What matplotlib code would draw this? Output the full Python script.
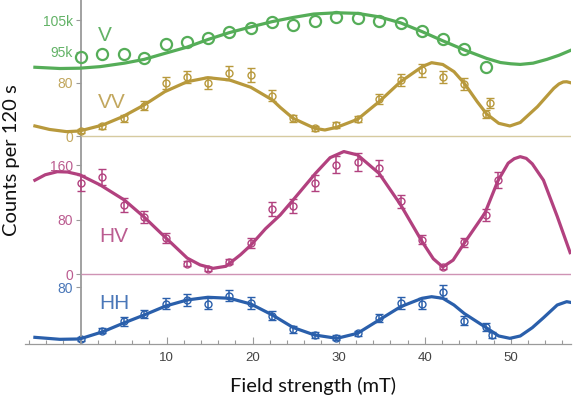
import matplotlib
matplotlib.use("Agg")
import matplotlib.pyplot as plt

plt.rcParams["font.family"] = ["Liberation Sans", "DejaVu Sans"]

# field values of the measurements (mT)
field = [0.0, 2.5, 5.0, 7.4, 9.9, 12.4, 14.8, 17.3, 19.8, 22.3,
         24.7, 27.2, 29.7, 32.2, 34.7, 37.2, 39.7, 42.1, 44.6, 47.1]

# V channel (no error bars, counts)
v_counts = [93200, 94100, 94100, 92800, 97300, 98100, 99200, 101100, 102400, 104300,
            103300, 104700, 105900, 105500, 104700, 104100, 101500, 99000, 95800, 90200]
v_fit_x = [-5.3, -2.4, -0.1, 2.3, 5.1, 7.4, 9.8, 12.4, 14.8, 17.3, 19.8, 22.3, 24.7,
           27.1, 29.8, 32.2, 34.7, 37.2, 39.7, 42.1, 44.6, 47.2, 48.8, 50.0, 51.1, 52.6,
           54.2, 55.6, 56.9]
v_fit = [90000, 89600, 89700, 90200, 91300, 92500, 94400, 96400, 98800, 101000, 102800,
         104500, 105800, 106900, 107300, 107100, 106000, 104100, 101300, 98400, 95500,
         92800, 91500, 91100, 90900, 91300, 92500, 93800, 95300]

# VV channel
vv_field = field + [47.6]
vv_counts = [8, 15, 27, 46, 80, 89, 80, 95, 92, 61, 27, 12, 17, 26, 56, 85, 99, 89, 79, 34, 50]
vv_err = [3, 4, 5, 7, 9, 9, 9, 10, 10, 8, 5, 4, 4, 5, 7, 9, 10, 9, 9, 6, 7]
vv_fit_x = [-5.3, -3.6, -1.6, -0.1, 2.6, 4.9, 7.4, 9.8, 12.4, 14.8, 17.3, 19.8, 22.3, 23.2,
            24.7, 27.2, 28.4, 29.8, 32.2, 34.7, 37.2, 39.7, 40.8, 42.1, 43.4, 44.6, 46.1,
            47.2, 48.6, 49.9, 51.1, 53.1, 55.0, 55.6, 56.1, 56.5, 56.9]
vv_fit = [15.7, 10.5, 7.2, 8.2, 17.2, 29.6, 47.1, 67.0, 81.9, 87.9, 84.5, 73.5, 54.6, 43.6,
          27.2, 12.3, 9.7, 13.8, 25.7, 52.0, 81.9, 104.3, 110.3, 107.6, 96.9, 79.5, 52.0,
          33.6, 19.7, 15.7, 20.9, 44.5, 72.0, 78.5, 81.5, 81.8, 80.5]

# HV channel
hv_field = field + [48.5]
hv_counts = [134, 143, 102, 84, 53, 16, 8, 19, 46, 96, 100, 134, 161, 165, 156, 107, 51, 11,
             47, 87, 138]
hv_err = [12, 12, 10, 9, 7, 4, 3, 4, 7, 10, 10, 12, 13, 13, 12, 10, 7, 3, 7, 9, 12]
hv_fit_x = [-5.3, -4.1, -2.7, -1.5, -0.1, 2.3, 5.1, 7.4, 9.8, 12.4, 13.9, 15.4, 16.9, 18.6,
            19.8, 21.5, 23.2, 24.7, 27.3, 29.0, 30.6, 32.2, 34.7, 37.2, 39.7, 41.0, 42.1,
            43.3, 44.6, 47.0, 48.5, 49.7, 50.4, 51.1, 51.8, 52.5, 53.8, 55.4, 56.9]
hv_fit = [138, 146, 150.5, 150, 146, 131, 109, 84, 55, 24, 14, 9, 12, 29, 43, 67, 87, 109,
          148, 171, 180, 175, 148, 102, 48, 23, 11, 21, 46, 90, 137, 163, 169.5, 172.5,
          170, 162, 138, 85, 32]

# HH channel
hh_field = field + [47.8]
hh_counts = [7, 19, 32, 42, 57, 62, 57, 68, 58, 40, 21, 13, 9, 15, 37, 58, 57, 74, 33, 24, 13]
hh_err = [3, 4, 6, 6, 8, 8, 8, 8, 8, 6, 5, 4, 3, 4, 6, 8, 8, 9, 6, 5, 4]
hh_fit_x = [-5.3, -2.4, -0.1, 2.6, 5.1, 7.4, 9.9, 12.4, 14.8, 17.3, 19.8, 22.3, 24.7, 27.2,
            29.8, 32.2, 34.7, 37.2, 39.7, 40.8, 42.1, 43.4, 44.6, 47.2, 48.6, 49.9, 51.1,
            52.5, 53.8, 55.4, 56.5, 56.9]
hh_fit = [9.4, 6.6, 7.1, 17.3, 30.0, 40.9, 53.6, 62.1, 65.9, 64.5, 56.4, 40.9, 23.3, 12.7,
          8.0, 15.1, 33.9, 52.6, 64.5, 66.7, 64.5, 55.0, 43.0, 22.6, 11.3, 8.0, 11.3, 23.0,
          37.0, 55.0, 59.7, 58.8]

x_major = [10, 20, 30, 40, 50]
x_minor = [t for t in range(-6, 57, 2) if t % 10 != 0]

GREEN, GREEN_T = "#55ad58", "#62b266"
GOLD, GOLD_T = "#b8993c", "#c2a75e"
PINK, PINK_T = "#b2417f", "#bb5c90"
BLUE, BLUE_T = "#2a5fab", "#4a77b8"
GRAY = "#9a9a9a"

XLIM = (-6.45, 57.0)

fig = plt.figure(figsize=(5.81, 3.99), dpi=100)
rect = [25 / 581, 55 / 399, 546 / 581, 344 / 399]


def make_axes(ylim, yticks, ylabels, tcolor, base=False):
    ax = fig.add_axes(rect, label=str(ylim))
    ax.set_xlim(*XLIM)
    ax.set_ylim(*ylim)
    ax.patch.set_alpha(0)
    for side in ["top", "right", "bottom"]:
        ax.spines[side].set_visible(False)
    ax.spines["left"].set_position(("data", 0))
    if base:
        ax.spines["left"].set_color(GRAY)
        ax.spines["left"].set_linewidth(1.3)
    else:
        ax.spines["left"].set_color("none")
    ax.set_yticks(yticks)
    ax.set_yticklabels(ylabels)
    ax.tick_params(axis="y", direction="out", length=3.5, width=0.8, color=GRAY,
                   pad=2, labelsize=10, labelcolor=tcolor)
    ax.tick_params(axis="x", which="both", bottom=False, labelbottom=False)
    return ax


# one axes per channel, all stacked on the same rectangle
ax_hh = make_axes((0, 485.2), [80], ["80"], BLUE_T, base=True)
ax_hv = make_axes((-101.8, 401.9), [0, 80, 160], ["0", "80", "160"], PINK_T)
ax_vv = make_axes((-310.2, 204.0), [0, 80], ["0", "80"], GOLD_T)
ax_v = make_axes((2140, 111350), [95000, 105000], ["95k", "105k"], GREEN_T)

# x axis on the HH panel
ax_hh.spines["bottom"].set_visible(True)
ax_hh.spines["bottom"].set_color(GRAY)
ax_hh.spines["bottom"].set_linewidth(0.9)
ax_hh.set_xticks(x_major)
ax_hh.set_xticks(x_minor, minor=True)
ax_hh.tick_params(axis="x", which="both", bottom=True, labelbottom=True,
                  direction="in", color=GRAY, width=0.8, labelsize=9.5,
                  labelcolor="#444444", pad=6)
ax_hh.tick_params(axis="x", which="major", length=5)
ax_hh.tick_params(axis="x", which="minor", length=3)

# panel baselines
ax_vv.hlines(0, 0, XLIM[1], color="#d6caa0", lw=1.0)
ax_hv.hlines(0, 0, XLIM[1], color="#cf93b4", lw=1.0)

# V
ax_v.plot(v_fit_x, v_fit, color=GREEN, lw=2.3, zorder=3)
ax_v.plot(field, v_counts, "o", ms=8, mfc="none", mec=GREEN, mew=1.6, zorder=4)

eb = dict(fmt="o", ms=5, mfc="none", mew=1.0, elinewidth=1.1, capsize=3.2, capthick=1.1,
          zorder=2)
for ax, fx, fy, dx, dy, de, col in [
    (ax_vv, vv_fit_x, vv_fit, vv_field, vv_counts, vv_err, GOLD),
    (ax_hv, hv_fit_x, hv_fit, hv_field, hv_counts, hv_err, PINK),
    (ax_hh, hh_fit_x, hh_fit, hh_field, hh_counts, hh_err, BLUE),
]:
    ax.errorbar(dx, dy, yerr=de, color=col, mec=col, **eb)
    ax.plot(fx, fy, color=col, lw=2.3, zorder=3)

# channel names
ax_v.text(2.0, 100000, "V", color=GREEN_T, fontsize=15, ha="left", va="center")
ax_vv.text(2.0, 51, "VV", color=GOLD_T, fontsize=15, ha="left", va="center")
ax_hv.text(2.2, 55, "HV", color=PINK_T, fontsize=15, ha="left", va="center")
ax_hh.text(2.2, 57, "HH", color=BLUE_T, fontsize=15, ha="left", va="center")

fig.text(12 / 581, (399 - 160) / 399, "Counts per 120 s", rotation=90, ha="center",
         va="center", fontsize=14.5, family="Lato", color="#111111")
fig.text(313 / 581, 13 / 399, "Field strength (mT)", ha="center", va="center",
         fontsize=14.5, family="Lato", color="#111111")

fig.savefig("out.png", dpi=100)
